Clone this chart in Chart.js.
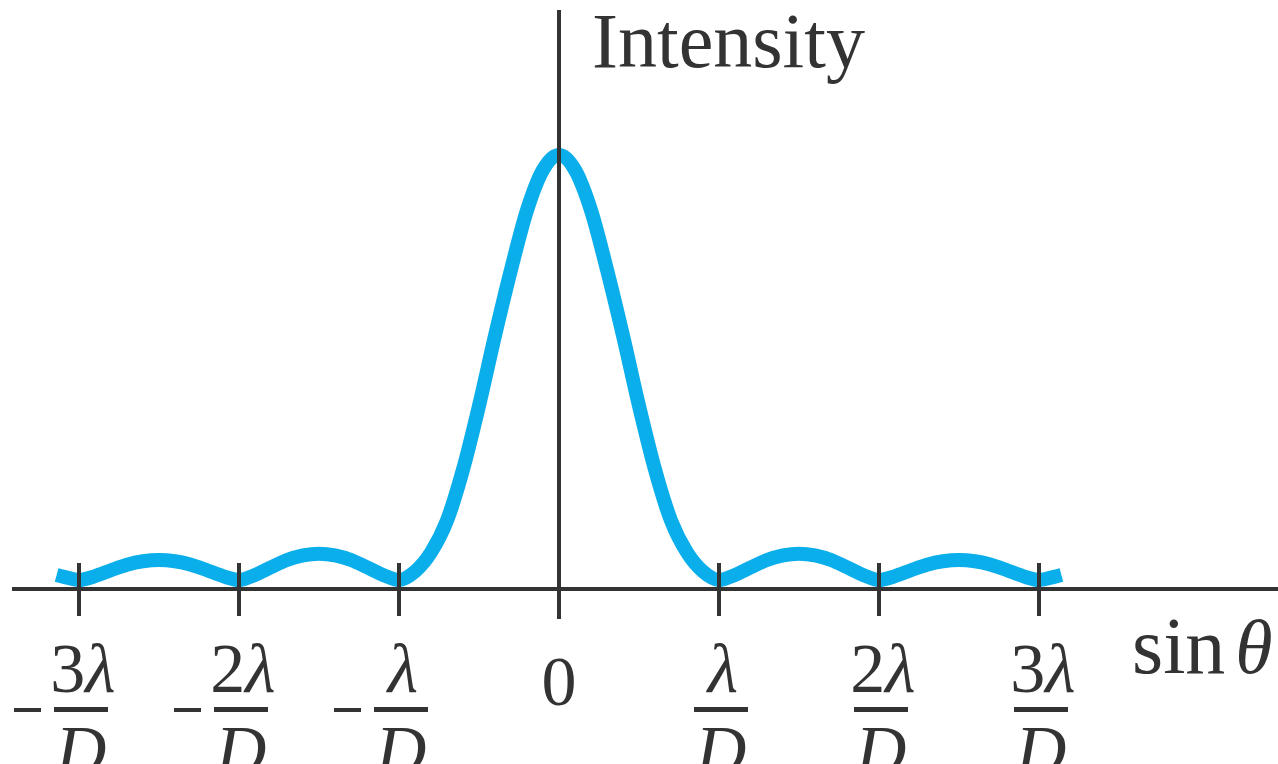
<!DOCTYPE html>
<html>
<head>
<meta charset="utf-8">
<script src="https://cdn.jsdelivr.net/npm/chart.js@4"></script>
<style>
  html, body { margin: 0; padding: 0; background: #fff; }
  canvas { display: block; }
</style>
</head>
<body>
<canvas id="myChart" width="1278" height="764"></canvas>
<script>
// sin(theta) in units of lambda/D
const sinTheta = [-3.14, -3.1, -3.0, -2.9, -2.8, -2.7, -2.6, -2.5, -2.4, -2.3, -2.2, -2.1,
  -2.0, -1.9, -1.8, -1.7, -1.6, -1.5, -1.4, -1.3, -1.2, -1.1,
  -1.0, -0.9, -0.8, -0.7, -0.6, -0.5, -0.4, -0.3, -0.2, -0.1,
  0, 0.1, 0.2, 0.3, 0.4, 0.5, 0.6, 0.7, 0.8, 0.9,
  1.0, 1.1, 1.2, 1.3, 1.4, 1.5, 1.6, 1.7, 1.8, 1.9,
  2.0, 2.1, 2.2, 2.3, 2.4, 2.5, 2.6, 2.7, 2.8, 2.9,
  3.0, 3.1, 3.14];
// relative intensity
const intensity = [0.012, 0.008, 0.000, 0.009, 0.023, 0.036, 0.044, 0.047, 0.044, 0.036, 0.023, 0.009,
  0.000, 0.012, 0.030, 0.047, 0.058, 0.062, 0.058, 0.047, 0.030, 0.012,
  0.000, 0.020, 0.065, 0.140, 0.260, 0.410, 0.575, 0.730, 0.870, 0.965,
  1.000, 0.965, 0.870, 0.730, 0.575, 0.410, 0.260, 0.140, 0.065, 0.020,
  0.000, 0.012, 0.030, 0.047, 0.058, 0.062, 0.058, 0.047, 0.030, 0.012,
  0.000, 0.009, 0.023, 0.036, 0.044, 0.047, 0.044, 0.036, 0.023, 0.009,
  0.000, 0.008, 0.012];

const tickValues = [-3, -2, -1, 0, 1, 2, 3];
const tickSigns = ['−', '−', '−', '', '', '', ''];
const tickCoefs = ['3', '2', '', '0', '', '2', '3'];
const yTitle = 'Intensity';
const xTitle = ['sin', 'θ'];

const ink = '#333333';
const serif = "'Liberation Serif', 'Times New Roman', Times, serif";

const axesPlugin = {
  id: 'axesPlugin',
  afterDatasetsDraw(chart) {
    const c = chart.ctx;
    const xs = chart.scales.x;
    const ys = chart.scales.y;
    const x0 = xs.getPixelForValue(0);
    const yAxis = ys.getPixelForValue(0) + 9;

    c.save();
    c.strokeStyle = ink;
    c.fillStyle = ink;
    c.lineWidth = 4;
    c.lineCap = 'butt';

    // horizontal axis
    c.beginPath();
    c.moveTo(xs.left, yAxis);
    c.lineTo(xs.right, yAxis);
    c.stroke();
    // vertical axis
    c.beginPath();
    c.moveTo(x0, 10);
    c.lineTo(x0, yAxis + 30);
    c.stroke();

    tickValues.forEach((v, i) => {
      const px = xs.getPixelForValue(v);
      if (v !== 0) {
        c.beginPath();
        c.moveTo(px, yAxis - 26);
        c.lineTo(px, yAxis + 27);
        c.stroke();
      }
      c.textBaseline = 'alphabetic';
      if (tickCoefs[i] === '0') {
        c.font = '70px ' + serif;
        c.textAlign = 'center';
        c.fillText('0', px, 705);
        return;
      }
      // numerator: coefficient upright + italic lambda
      c.textAlign = 'left';
      c.font = '70px ' + serif;
      const wc = tickCoefs[i] ? c.measureText(tickCoefs[i]).width : 0;
      c.font = 'italic 70px ' + serif;
      const wl = c.measureText('λ').width;
      let sx = px + 4 - (wc + wl) / 2;
      if (tickCoefs[i]) {
        c.font = '70px ' + serif;
        c.fillText(tickCoefs[i], sx, 692);
        sx += wc;
      }
      c.font = 'italic 70px ' + serif;
      c.fillText('λ', sx, 692);
      // fraction bar
      const barL = px + 2 - 27;
      c.fillRect(barL, 707, 54, 5);
      // denominator
      c.textAlign = 'center';
      c.fillText('D', px + 2, 774);
      // minus sign
      if (tickSigns[i]) {
        c.fillRect(barL - 13 - 27, 708, 27, 4);
      }
    });

    // axis titles
    c.textAlign = 'left';
    c.font = '78px ' + serif;
    c.fillText(yTitle, x0 + 33, 67);

    c.font = '80px ' + serif;
    const sxT = 1132;
    c.fillText(xTitle[0], sxT, 673);
    const ws = c.measureText(xTitle[0]).width;
    c.font = 'italic 76px ' + serif;
    c.fillText(xTitle[1], sxT + ws + 10, 673);
    c.restore();
  }
};

function draw() {
  new Chart(document.getElementById('myChart'), {
    type: 'line',
    data: {
      datasets: [{
        data: sinTheta.map((x, i) => ({x: x, y: intensity[i]})),
        borderColor: '#0AAEEA',
        borderWidth: 14,
        borderCapStyle: 'butt',
        borderJoinStyle: 'round',
        pointRadius: 0,
        cubicInterpolationMode: 'monotone',
        fill: false,
        clip: false
      }]
    },
    options: {
      responsive: false,
      animation: false,
      devicePixelRatio: 1,
      layout: { padding: { left: 12, right: 0, top: 155, bottom: 184 } },
      plugins: { legend: { display: false }, tooltip: { enabled: false } },
      scales: {
        x: { type: 'linear', min: -3.41875, max: 4.49375, display: false },
        y: { min: 0, max: 1, display: false }
      }
    },
    plugins: [axesPlugin]
  });
}

Promise.all([
  document.fonts.load("70px 'Liberation Serif'"),
  document.fonts.load("italic 70px 'Liberation Serif'")
]).then(draw, draw);
</script>
</body>
</html>
